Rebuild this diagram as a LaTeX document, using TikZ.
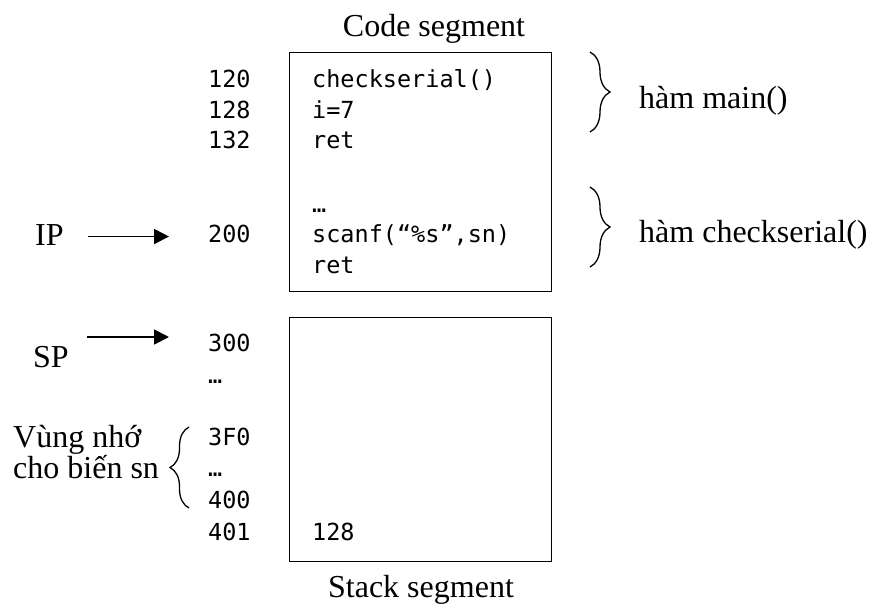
\documentclass[tikz,border=0pt]{standalone}
\usepackage{fontspec}
\setmainfont{Liberation Serif}
\setmonofont{DejaVu Sans Mono}
\usetikzlibrary{arrows.meta,decorations.pathreplacing}

\begin{document}
\begin{tikzpicture}[x=1pt, y=-1pt,
        every node/.style={inner sep=0pt, anchor=base west},
        txt/.style={font=\fontsize{32}{36}\selectfont},
        code/.style={font=\ttfamily\fontsize{23.5}{31}\selectfont},
        segbox/.style={draw, line width=1.4pt, anchor=north west, minimum width=262pt},
        ptr/.style={-{Triangle[length=15pt, width=15pt]}, line width=1.8pt},
        brc/.style={decorate, decoration={brace, amplitude=20pt}, line width=1.3pt}
      ]
        \useasboundingbox (0,0) rectangle (869,603);

        % the two segments
        \node[segbox, minimum height=239pt] (codebox) at (289,52) {};
        \node[segbox, minimum height=244pt] (stackbox) at (289,317) {};
        \node[txt, anchor=base] (codetitle) at (434,36.5) {Code segment};
        \node[txt, anchor=base] (stacktitle) at (421,597) {Stack segment};

        % code segment
        \node[code] (a120) at (208,87) {120};
        \node[code] (a128) at (208,118) {128};
        \node[code] (a132) at (208,148) {132};
        \node[code] (a200) at (208,242) {200};
        \node[code] (c1) at (312,87) {checkserial()};
        \node[code] (c2) at (312,118) {i=7};
        \node[code] (c3) at (312,148) {ret};
        \node[code] (c4) at (312,212) {…};
        \node[code] (c5) at (312,242) {scanf(“\%s”,sn)};
        \node[code] (c6) at (312,273) {ret};

        % stack segment
        \node[code] (a300) at (208,351) {300};
        \node[code] (d1) at (208,383) {…};
        \node[code] (a3F0) at (208,445) {3F0};
        \node[code] (d2) at (208,476) {…};
        \node[code] (a400) at (208,508) {400};
        \node[code] (a401) at (208,540) {401};
        \node[code] (s1) at (312,540) {128};

        % registers
        \node[txt] (IP) at (35,245) {IP};
        \node[txt] (SP) at (33,367) {SP};
        \coordinate (sptail) at (87,337);
        \draw[ptr, shorten <=24pt, shorten >=39pt] ([yshift=-2pt]IP.east) -- ([yshift=-2pt]IP.east -| a200.west);
        \draw[ptr, shorten >=39pt] (sptail) -- (sptail -| a300.west);

        % braces
        \draw[brc] (590,52) -- (590,132);
        \draw[brc] (590,187) -- (590,267);
        \draw[brc, decoration={amplitude=19pt}] (189,508) -- (189,427);
        \node[txt] (fmain) at (639,108) {hàm main()};
        \node[txt] (fcheck) at (639,242) {hàm checkserial()};
        \node[txt] (mem1) at (13,447) {Vùng nhớ};
        \node[txt] (mem2) at (13,478) {cho biến sn};
      \end{tikzpicture}
\end{document}
